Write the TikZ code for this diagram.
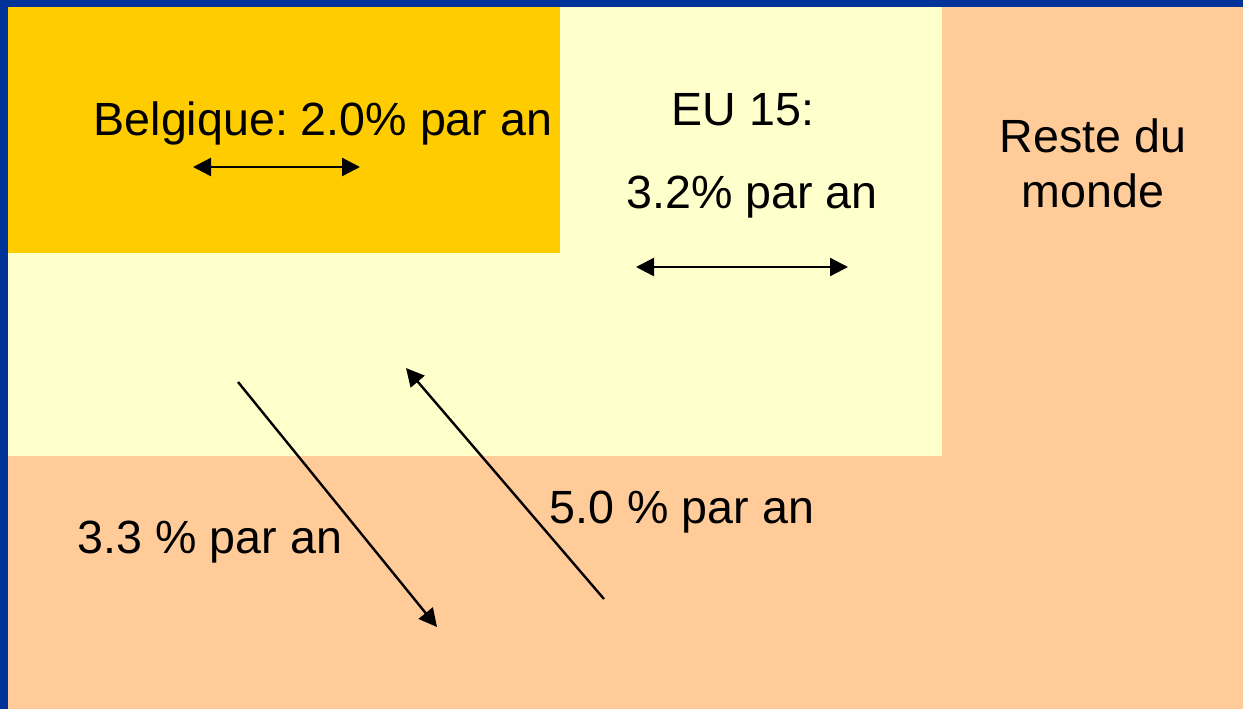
\documentclass[tikz,border=0pt]{standalone}
\usepackage{fontspec}
\setmainfont{Liberation Sans}
\usetikzlibrary{arrows.meta,positioning}
\definecolor{frame}{HTML}{003399}
\definecolor{gold}{HTML}{FFCC00}
\definecolor{pale}{HTML}{FFFFCC}
\definecolor{peach}{HTML}{FFCC99}
\frenchspacing
\begin{document}
\begin{tikzpicture}[x=0.5pt,y=-0.5pt,every node/.style={font=\fontsize{23.3}{27.5}\selectfont,inner sep=0pt,anchor=base},
    flow/.style={line width=1.2pt,-{Triangle[length=9pt,width=9pt]}},
    both/.style={line width=1.2pt,{Triangle[length=9pt,width=9pt]}-{Triangle[length=9pt,width=9pt]}}]
      \fill[frame] (0,0) rectangle (1243,709);
      \fill[peach] (8,7) rectangle (1243,709);
      \fill[pale] (8,7) rectangle (942,456);
      \fill[gold] (8,7) rectangle (560,253);
      \node (be) at (323,135) {Belgique: 2.0\% par an};
      \node (eu) at (743,125) {EU 15:};
      \node (eur) at (752,208) {3.2\% par an};
      \node (rest) at (1093,152) {Reste du};
      \node (monde) at ([yshift=-27.5pt]rest.base) {monde};
      \node (dn) at (210,553) {3.3 \% par an};
      \node (up) at (682,523) {5.0 \% par an};
      \coordinate (bl) at (193,167); \coordinate (br) at (360,167);
      \coordinate (el) at (636,267); \coordinate (er) at (848,267);
      \coordinate (d0) at (238,382); \coordinate (d1) at (437,627);
      \coordinate (u0) at (604,599); \coordinate (u1) at (406,368);
      \foreach \x/\y in {bl/br,el/er} \draw[both] (\x)--(\y);
      \foreach \x/\y in {d0/d1,u0/u1} \draw[flow] (\x)--(\y);
    \end{tikzpicture}
\end{document}
